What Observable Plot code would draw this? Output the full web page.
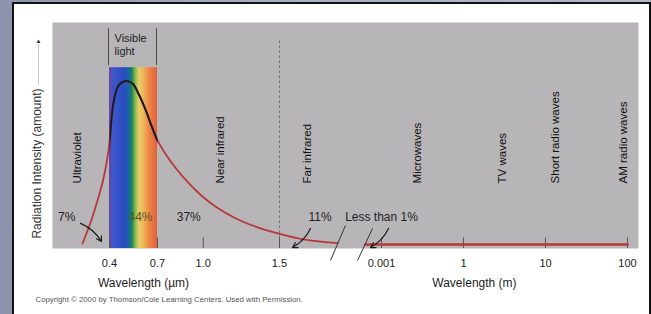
<!DOCTYPE html>
<html><head><meta charset="utf-8">
<script src="https://cdn.jsdelivr.net/npm/d3@7"></script>
<script src="https://cdn.jsdelivr.net/npm/@observablehq/plot@0.6"></script>
<style>
html,body{margin:0;padding:0;width:651px;height:314px;overflow:hidden;}
body{background:linear-gradient(90deg,#8e93ad 0%,#a9adc3 40%,#b3b6c9 100%);position:relative;font-family:"Liberation Sans",Arial,sans-serif;}
#panel{position:absolute;left:12px;top:2px;width:635px;height:340px;background:#fff;border:2px solid #111;}
#chart{position:absolute;left:0;top:0;}
#chart svg{background:transparent;overflow:visible;}
</style></head><body><div id="panel"></div><div id="chart"></div>
<script>
// ---- data ----
// Solar radiation curve (wavelength in micrometres, relative intensity)
const curveUm = [0.225,0.277,0.322,0.361,0.394,0.425,0.456,0.5,0.544,0.581,0.625,0.656,0.7,0.752,0.818,0.903,0.995,1.08,1.211,1.343,1.5,1.638,1.769,1.88];
const curveIntensity = [2.2,11.5,21.2,31,43.4,64.6,72.1,74.1,73,68.5,61.5,55.5,47.8,41.9,35.7,29,23,18.6,13.4,9.7,6.5,4.3,3,2.4];
// Long-wave tail (wavelength in metres)
const tailM = [0.0006, 100];
const tailIntensity = [1.8, 1.8];
// Axis ticks
const umTicks = [0.4, 0.7, 1.0, 1.5];
const umTickLabels = ["0.4", "0.7", "1.0", "1.5"];
const mTicks = [0.001, 1, 10, 100];
const mTickLabels = ["0.001", "1", "10", "100"];
// Region names
const regionNames = ["Ultraviolet", "Near infrared", "Far infrared", "Microwaves", "TV waves", "Short radio waves", "AM radio waves"];
const regionUm = [0.193, 1.112, 1.68, 0.44e6, 5.28e6, 21e6, 95.6e6];
// Share of energy
const shareLabels = ["7%", "44%", "37%", "11%", "Less than 1%"];
const shareUm = [0.122, 0.594, 0.905, 1.766, 1000];
// Visible band
const visibleUm = [0.4, 0.7];
const visibleTop = 80;
// Leader arrows [x1, y1, x2, y2] in (µm, intensity)
const leaderX1 = [0.212, 1.703, 86280];
const leaderY1 = [11.1, 8.85, 8.85];
const leaderX2 = [0.348, 1.585, 725];
const leaderY2 = [3.1, 0.44, 0.44];
// Axis break marks
const breakX1 = [1.834, 429.1];
const breakY1 = [-5.3, -5.3];
const breakX2 = [172.8, 775];
const breakY2 = [10.2, 8.85];

// palette
const spectrumStops = [0, 0.1, 0.3, 0.4, 0.47, 0.55, 0.62, 0.72, 0.84, 1];
const spectrumColors = ["#6b45a4", "#3a58cc", "#2a4cc0", "#1f5fae", "#14845a", "#8cb850", "#e6cf68", "#f1b358", "#ec8446", "#e2603a"];

// ---- build ----
const curve = curveUm.map((x, i) => ({x, y: curveIntensity[i]}));
const tail = tailM.map((m, i) => ({x: m * 1e6, y: tailIntensity[i]}));
const ticks = [...umTicks.map((x, i) => ({x, label: umTickLabels[i]})), ...mTicks.map((m, i) => ({x: m * 1e6, label: mTickLabels[i]}))];
const regions = regionNames.map((name, i) => ({name, x: regionUm[i]}));
const shares = shareLabels.map((t, i) => ({t, x: shareUm[i]}));
const leaders = leaderX1.map((x1, i) => ({x1, y1: leaderY1[i], x2: leaderX2[i], y2: leaderY2[i]}));
const breaks = breakX1.map((x1, i) => ({x1, y1: breakY1[i], x2: breakX2[i], y2: breakY2[i]}));
const red = "#b8383a";
const font = "Liberation Sans, Arial, sans-serif";

const chart = Plot.plot({
  width: 651, height: 314,
  marginTop: 22, marginBottom: 66, marginLeft: 52, marginRight: 13,
  style: {fontFamily: font, background: "transparent"},
  x: {type: "linear", axis: null,
      domain: [0.03, 0.4, 0.7, 1.5, 1.88, 600, 1000, 1e6, 1e7, 1e8, 1.13e8],
      range: [52, 109, 157, 279, 337, 365, 381, 463, 545, 627, 638]},
  y: {domain: [0, 100], axis: null},
  marks: [
    Plot.frame({fill: "#b7b5b8", stroke: "none"}),
    Plot.rect([visibleUm], {x1: d => d[0], x2: d => d[1], y1: 0, y2: visibleTop, fill: "url(#spectrum)"}),
    Plot.ruleX(visibleUm, {x: d => d, y1: 81, y2: 97.3, dx: -1, stroke: "#4a4a4a", strokeWidth: 1}),
    Plot.text(["Visible\nlight"], {x: 0.4, y: 95.5, dx: 5, text: d => d, textAnchor: "start", lineAnchor: "top", fontSize: 11, lineHeight: 1.2, fill: "#222"}),
    Plot.ruleX([1.5], {x: d => d, y1: 0, y2: 92, stroke: "#6f6f6f", strokeDasharray: "2.5,2.5", strokeWidth: 1}),
    Plot.ruleX(ticks, {x: "x", y1: 0, y2: 4.6, stroke: "#555", strokeWidth: 1}),
    Plot.line(curve, {x: "x", y: "y", curve: "catmull-rom", stroke: red, strokeWidth: 1.8}),
    Plot.line(curve, {x: "x", y: "y", curve: "catmull-rom", stroke: "#1b1b28", strokeWidth: 2}),
    Plot.line(tail, {x: "x", y: "y", stroke: red, strokeWidth: 2.6}),
    Plot.link(breaks, {x1: "x1", y1: "y1", x2: "x2", y2: "y2", stroke: "#333", strokeWidth: 1}),
    Plot.arrow(leaders, {x1: "x1", y1: "y1", x2: "x2", y2: "y2", bend: 18, stroke: "#1a1a1a", strokeWidth: 1.2, headLength: 7}),
    Plot.text(regions, {x: "x", y: 28.8, text: "name", rotate: -90, textAnchor: "start", fontSize: 11.5, fill: "#111"}),
    Plot.text(shares, {x: "x", y: 13.7, text: "t", textAnchor: d => d.t.length > 4 ? "start" : "middle", fontSize: 12, fill: d => d.t === "44%" ? "#55552a" : "#1e1e1e"}),
    Plot.text(ticks, {x: "x", y: 0, dy: 15, text: "label", fontSize: 11, fill: "#222"}),
    Plot.text(["Wavelength (µm)"], {x: 0.6125, y: 0, dy: 35, text: d => d, fontSize: 12, fill: "#1e1e1e"}),
    Plot.text(["Wavelength (m)"], {x: 2.2e6, y: 0, dy: 35, text: d => d, fontSize: 12, fill: "#1e1e1e"}),
    Plot.text(["Radiation Intensity (amount)"], {x: 0.03, y: 37.6, dx: -15, text: d => d, rotate: -90, fontSize: 12, fill: "#333"}),
    Plot.ruleX([0.03], {x: d => d, y1: 72.1, y2: 90.3, dx: -14, stroke: "#c8c8c8", strokeWidth: 1}),
    Plot.text(["▲"], {x: 0.03, y: 92, dx: -14, text: d => d, fontSize: 6, fill: "#222"}),
    Plot.text(["Copyright © 2000 by Thomson/Cole Learning Centers. Used with Permission."], {frameAnchor: "bottom-left", dx: -17, dy: 53, text: d => d, textAnchor: "start", fontSize: 7.8, fill: "#555"})
  ]
});

// spectrum gradient + clip of the dark curve to the visible band
const ns = "http://www.w3.org/2000/svg";
const defs = document.createElementNS(ns, "defs");
const grad = document.createElementNS(ns, "linearGradient");
grad.setAttribute("id", "spectrum");
grad.setAttribute("x1", "0"); grad.setAttribute("x2", "1"); grad.setAttribute("y1", "0"); grad.setAttribute("y2", "0");
spectrumStops.forEach((o, i) => {
  const s = document.createElementNS(ns, "stop");
  s.setAttribute("offset", o);
  s.setAttribute("stop-color", spectrumColors[i]);
  grad.appendChild(s);
});
defs.appendChild(grad);
const xs = chart.scale("x"), ys = chart.scale("y");
const cp = document.createElementNS(ns, "clipPath");
cp.setAttribute("id", "bandclip");
const cr = document.createElementNS(ns, "rect");
cr.setAttribute("x", xs.apply(visibleUm[0]));
cr.setAttribute("width", xs.apply(visibleUm[1]) - xs.apply(visibleUm[0]));
cr.setAttribute("y", ys.apply(visibleTop));
cr.setAttribute("height", ys.apply(0) - ys.apply(visibleTop));
cp.appendChild(cr);
defs.appendChild(cp);
chart.insertBefore(defs, chart.firstChild);
const lines = chart.querySelectorAll('g[aria-label="line"]');
if (lines[1]) lines[1].setAttribute("clip-path", "url(#bandclip)");

document.getElementById("chart").appendChild(chart);
</script>
</body></html>
